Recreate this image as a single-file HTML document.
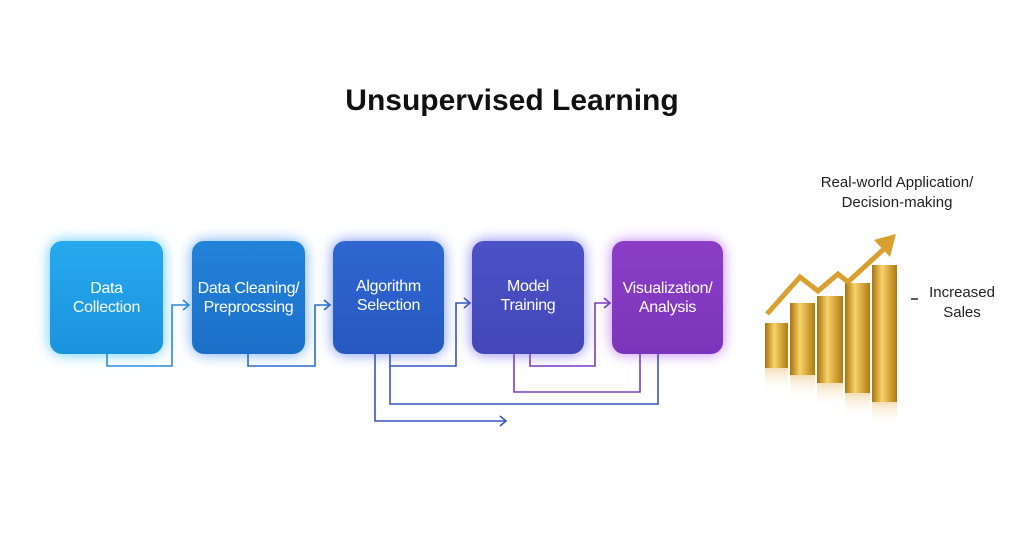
<!DOCTYPE html>
<html><head><style>
body{margin:0;width:1024px;height:559px;background:#fff;position:relative;font-family:"Liberation Sans",sans-serif;overflow:hidden}
.t{position:absolute;left:0;width:1024px;text-align:center;top:84px;font-size:30px;font-weight:bold;color:#111}
.b{position:absolute;top:241px;width:113px;height:113px;border-radius:12px;color:#fff;font-size:16px;display:flex;align-items:center;justify-content:center;text-align:center;line-height:19px;letter-spacing:-0.3px}
.l{position:absolute;color:#222;font-size:15px;text-align:center;line-height:20px}
</style></head><body>
<div class="t">Unsupervised Learning</div>
<div class="b" style="left:50px;background:linear-gradient(#27a9ee,#1a93dd);box-shadow:0 0 14px #5cc8ff">Data<br>Collection</div>
<div class="b" style="left:192px;background:linear-gradient(#2383d8,#1c6fc8);box-shadow:0 0 14px #6aaaf0">Data Cleaning/<br>Preprocssing</div>
<div class="b" style="left:333px;width:111px;background:linear-gradient(#2f66d0,#2858c2);box-shadow:0 0 14px #7790f0;align-items:flex-start;padding-top:36px;height:77px">Algorithm<br>Selection</div>
<div class="b" style="left:472px;width:112px;background:linear-gradient(#4b52c6,#4347b8);box-shadow:0 0 14px #8a80f0;align-items:flex-start;padding-top:36px;height:77px">Model<br>Training</div>
<div class="b" style="left:612px;width:111px;background:linear-gradient(#8c3dc6,#7a35ba);box-shadow:0 0 14px #c080f0">Visualization/<br>Analysis</div>
<svg width="1024" height="559" style="position:absolute;left:0;top:0" fill="none" stroke-width="1.6">
<g stroke="#2a8ad8"><path d="M107 354V366H172V305H188"/><path d="M183 300L189 305L183 310"/></g>
<g stroke="#2a6cc8"><path d="M248 354V366H315V305H329"/><path d="M324 300L330 305L324 310"/></g>
<g stroke="#3a55c0"><path d="M390 354V366H456V303H469"/><path d="M464 298L470 303L464 308"/>
<path d="M375 354V421H505"/><path d="M500 416L506 421L500 426"/>
<path d="M390 366V404H658V354"/></g>
<g stroke="#7a3ec0"><path d="M530 354V366H595V303H609"/><path d="M604 298L610 303L604 308"/>
<path d="M514 354V392H640V354"/></g>
<defs><linearGradient id="g" x1="0" x2="1"><stop offset="0" stop-color="#a8720a"/><stop offset=".4" stop-color="#f7d26a"/><stop offset="1" stop-color="#b07a10"/></linearGradient>
<linearGradient id="r" x1="0" y1="0" x2="0" y2="1"><stop offset="0" stop-color="#e8c070" stop-opacity=".5"/><stop offset="1" stop-color="#fff" stop-opacity="0"/></linearGradient></defs>
<g fill="url(#g)" stroke="none">
<rect x="765" y="323" width="23" height="45"/><rect x="790" y="303" width="25" height="72"/><rect x="817" y="296" width="26" height="87"/><rect x="845" y="283" width="25" height="110"/><rect x="872" y="265" width="25" height="137"/>
</g>
<g fill="url(#r)" stroke="none"><rect x="765" y="368" width="23" height="25"/><rect x="790" y="375" width="25" height="25"/><rect x="817" y="383" width="26" height="25"/><rect x="845" y="393" width="25" height="25"/><rect x="872" y="402" width="25" height="25"/></g>
<path d="M767 314L800 277L818 291L838 274L848 282L885 248" stroke="#d9a030" stroke-width="5"/>
<path d="M874 240L896 234L890 257Z" fill="#d9a030" stroke="none"/>
<path d="M911 299H918" stroke="#333"/>
</svg>
<div class="l" style="left:812px;top:173px;width:170px">Real-world Application/<br>Decision-making</div>
<div class="l" style="left:920px;top:283px;width:84px">Increased<br>Sales</div>
</body></html>
